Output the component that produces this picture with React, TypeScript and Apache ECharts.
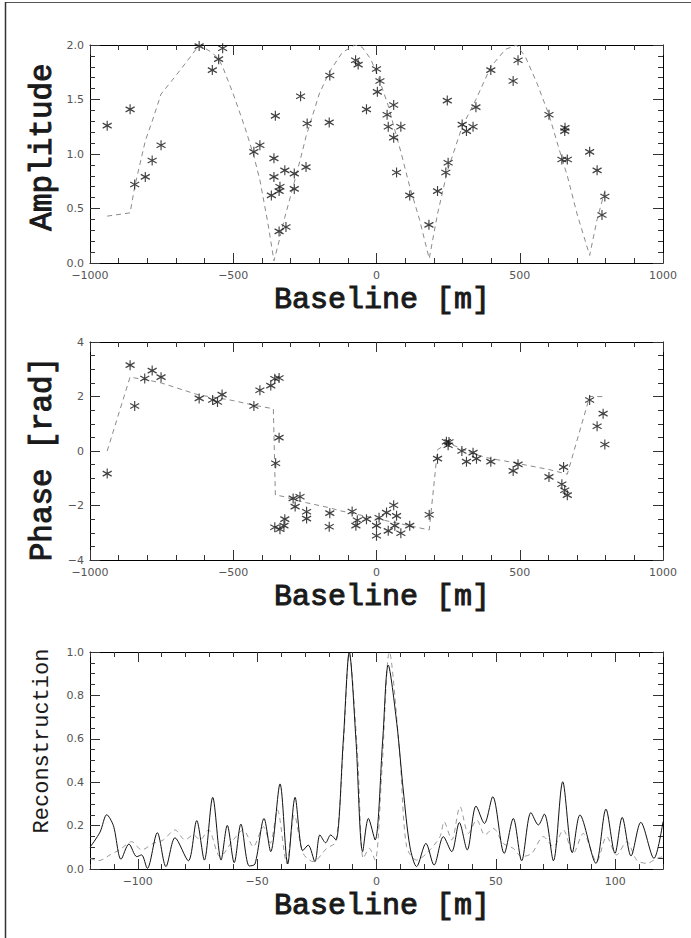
import React, { useEffect, useRef } from 'react';
import * as echarts from 'echarts';

// ---------- Panel 1: amplitude ----------
const ampX = [-940, -860, -844, -807, -783, -752, -619, -573, -551, -537, -428, -407, -353, -358, -358, -367, -337, -340, -320, -287, -287, -340, -316, -265, -246, -242, -163, -165,
  -73, -64, 0, 12, 3, -35, 60, 37, 41, 85, 60, 70, 116, 183, 213, 247, 242, 250, 299, 314, 337, 347, 399, 477, 494, 602, 658, 657, 647, 666, 744, 770, 797, 787];
const ampY = [1.26, 1.41, 0.72, 0.79, 0.94, 1.08, 1.99, 1.77, 1.87, 1.97, 1.02, 1.08, 1.35, 0.96, 0.79, 0.62, 0.70, 0.66, 0.85, 0.82, 0.68, 0.29, 0.33, 1.53, 0.88, 1.28, 1.72, 1.29,
  1.86, 1.82, 1.78, 1.67, 1.57, 1.41, 1.45, 1.36, 1.25, 1.25, 1.15, 0.83, 0.62, 0.35, 0.66, 1.49, 0.83, 0.92, 1.27, 1.21, 1.25, 1.43, 1.77, 1.67, 1.86, 1.36, 1.24, 1.21, 0.95, 0.95, 1.02, 0.85, 0.61, 0.44];
const ampModelX = [-940, -860, -844, -807, -783, -752, -700, -650, -619, -573, -551, -537, -500, -460, -428, -407, -380, -358, -340, -320, -287, -265, -246, -200, -165, -120, -76, -50, -20, 10, 40, 85, 116, 150, 184, 213, 247, 299, 347, 399, 450, 489, 520, 560, 602, 647, 666, 700, 744, 770, 799];
const ampModelY = [0.43, 0.46, 0.70, 1.12, 1.30, 1.55, 1.72, 1.89, 2.0, 1.93, 1.87, 1.80, 1.55, 1.25, 0.98, 0.76, 0.38, 0.02, 0.20, 0.42, 0.74, 0.96, 1.16, 1.55, 1.75, 1.93, 2.0, 1.98, 1.87, 1.68, 1.45, 1.02, 0.70, 0.40, 0.04, 0.45, 0.84, 1.25, 1.50, 1.80, 1.96, 2.0, 1.89, 1.65, 1.36, 0.96, 0.80, 0.45, 0.07, 0.40, 0.68];

// ---------- Panel 2: phase ----------
const phaseX = [-940, -860, -844, -809, -783, -752, -619, -572, -555, -539, -428, -407, -369, -355, -340, -340, -352, -355, -337, -323, -320, -291, -267, -284, -244, -244, -163, -165,
  -85, -72, -67, -35, 0, 0, 9, 35, 41, 60, 70, 64, 85, 116, 184, 213, 244, 250, 253, 298, 314, 337, 349, 399, 477, 494, 602, 653, 647, 657, 666, 744, 791, 770, 797];
const phaseY = [-0.83, 3.15, 1.65, 2.66, 2.95, 2.71, 1.93, 1.87, 1.80, 2.07, 1.65, 2.23, 2.40, 2.65, 2.68, 0.49, -0.45, -2.80, -2.87, -2.74, -2.50, -1.74, -1.68, -2.04, -2.23, -2.48, -2.28, -2.78,
  -2.22, -2.74, -2.54, -2.50, -2.74, -3.11, -2.45, -2.26, -2.93, -1.99, -2.38, -2.74, -3.02, -2.74, -2.34, -0.28, 0.34, 0.21, 0.33, 0.00, -0.39, -0.06, -0.28, -0.39, -0.73, -0.49, -0.95, -0.59, -1.22, -1.44, -1.62, 1.87, 1.37, 0.91, 0.24];
const phaseModelX = [-940, -860, -844, -809, -783, -752, -619, -572, -539, -500, -428, -407, -360, -353, -340, -320, -291, -267, -244, -165, -128, -70, 0, 60, 116, 184, 213, 244, 253, 337, 399, 477, 494, 602, 647, 666, 744, 770, 799];
const phaseModelY = [0.0, 2.72, 2.68, 2.62, 2.57, 2.50, 2.05, 1.98, 1.92, 1.85, 1.68, 1.64, 1.55, -1.62, -1.64, -1.68, -1.78, -1.84, -1.90, -2.08, -2.19, -2.32, -2.48, -2.62, -2.74, -2.90, 0.05, 0.25, 0.28, -0.10, -0.28, -0.42, -0.46, -0.68, -0.80, -0.85, 2.00, 2.00, 1.99];

// ---------- Panel 3: reconstruction ----------
const reconSolidX = [-120, -115.8, -113.0, -110.2, -107.0, -103.7, -100.4, -98.4, -96.0, -91.8, -88.2, -84.4, -78.8, -75.3, -72.1, -68.6, -65.1, -62.5, -59.6, -56.8, -53.3, -50.9, -47.1, -44.3, -40.4, -37.2, -34.1, -30.9, -28.6, -25.8, -23.7, -21.3, -19.2, -17.0, -13.9, -11.4, -8.6, -5.8, -3.4, -0.6, 2.6, 4.9, 8.5, 11.2, 14.0, 16.8, 20.7, 24.1, 28.0, 31.5, 34.7, 38.0, 41.7, 45.2, 48.7, 53.5, 57.3, 60.8, 64.7, 67.8, 70.3, 74.1, 78.0, 82.0, 85.2, 91.9, 96.1, 99.9, 102.9, 106.6, 110.7, 116.2, 120];
const reconSolidY = [0.10, 0.17, 0.25, 0.20, 0.045, 0.115, 0.057, 0.065, 0.003, 0.167, 0.011, 0.144, 0.038, 0.223, 0.041, 0.33, 0.041, 0.201, 0.029, 0.207, 0.014, 0.023, 0.233, 0.08, 0.392, 0.023, 0.33, 0.084, 0.11, 0.034, 0.157, 0.121, 0.157, 0.134, 0.594, 1.0, 0.594, 0.08, 0.233, 0.134, 0.594, 0.94, 0.671, 0.364, 0.103, 0.011, 0.118, 0.018, 0.149, 0.08, 0.214, 0.088, 0.29, 0.21, 0.333, 0.072, 0.233, 0.038, 0.26, 0.203, 0.253, 0.038, 0.402, 0.075, 0.249, 0.026, 0.276, 0.072, 0.238, 0.06, 0.215, 0.049, 0.218];
const reconDashedX = [-120, -116.5, -111.6, -107.4, -102.5, -98.4, -93.5, -89.3, -84.4, -80.2, -76.7, -73.9, -70.4, -65.5, -60.0, -55.8, -51.6, -47.4, -44.5, -41.5, -37.6, -34.4, -30.7, -26.5, -20.9, -17.0, -13.9, -11.4, -7.9, -5.5, -3.0, -0.6, 2.2, 5.4, 9.8, 12.6, 16.8, 21.0, 26.6, 28.3, 31.5, 35.0, 38.5, 42.0, 45.4, 48.9, 53.1, 57.3, 60.8, 65.0, 69.9, 74.1, 78.2, 82.4, 86.6, 92.2, 96.4, 100.6, 104.8, 109.0, 113.2, 117.4, 120];
const reconDashedY = [0.049, 0.038, 0.065, 0.09, 0.126, 0.088, 0.118, 0.134, 0.18, 0.134, 0.157, 0.134, 0.18, 0.057, 0.134, 0.18, 0.103, 0.195, 0.12, 0.272, 0.026, 0.249, 0.072, 0.034, 0.095, 0.126, 0.564, 0.994, 0.518, 0.049, 0.095, 0.041, 0.441, 1.0, 0.518, 0.103, 0.041, 0.072, 0.149, 0.218, 0.134, 0.287, 0.164, 0.226, 0.157, 0.187, 0.118, 0.095, 0.057, 0.072, 0.149, 0.103, 0.18, 0.072, 0.164, 0.034, 0.149, 0.065, 0.126, 0.041, 0.026, 0.049, 0.057];

// ---------- Tick labels / titles ----------
const reconXLabels = [-100, -50, 0, 50, 100];
const xTitle = 'Baseline [m]';
const yTitles = ['Amplitude', 'Phase [rad]', 'Reconstruction'];

const zip = (xs: number[], ys: number[]) => xs.map((x, i) => [x, ys[i]]);
const fmt = (v: number, d: number) => v.toFixed(d).replace('-', '\u2212');

const AX = '#000';
const TICK = '#333';
const LBL = { color: '#555', fontSize: 11, fontFamily: 'DejaVu Sans' };
const STAR = 'path://M5 0L5 10M0.7 2.5L9.3 7.5M0.7 7.5L9.3 2.5';

function xAxisCfg(gridIndex: number, pos: string, min: number, max: number, extra: any, labels: boolean, digits: number) {
  return {
    type: 'value', gridIndex, position: pos, min, max,
    axisLine: { show: true, onZero: false, lineStyle: { color: AX, width: 1 } },
    axisTick: { show: true, inside: true, length: 10, lineStyle: { color: TICK, width: 1 } },
    axisLabel: { show: labels, margin: 7, ...LBL, showMinLabel: true, showMaxLabel: true, hideOverlap: false, formatter: (v: number) => fmt(v, digits) },
    splitLine: { show: false }, minorSplitLine: { show: false },
    ...extra,
  };
}
function yAxisCfg(gridIndex: number, pos: string, min: number, max: number, interval: number, minorSplit: number, labels: boolean, digits: number) {
  return {
    type: 'value', gridIndex, position: pos, min, max, interval,
    axisLine: { show: true, onZero: false, lineStyle: { color: AX, width: 1 } },
    axisTick: { show: true, inside: true, length: 10, lineStyle: { color: TICK, width: 1 } },
    minorTick: { show: true, splitNumber: minorSplit, length: 5, lineStyle: { color: TICK, width: 1 } },
    axisLabel: { show: labels, margin: 6, ...LBL, showMinLabel: true, showMaxLabel: true, hideOverlap: false, formatter: (v: number) => fmt(v, digits) },
    splitLine: { show: false }, minorSplitLine: { show: false },
  };
}

function buildOption() {
  const minor = (split: number) => ({ interval: 500, minorTick: { show: true, splitNumber: split, length: 5, lineStyle: { color: TICK, width: 1 } } });
  const custom = { axisTick: { show: true, inside: true, length: 10, customValues: reconXLabels, lineStyle: { color: TICK, width: 1 } } };
  const xAxes: any[] = [
    xAxisCfg(0, 'bottom', -1000, 1000, minor(5), true, 0),
    xAxisCfg(0, 'top', -1000, 1000, minor(5), false, 0),
    xAxisCfg(1, 'bottom', -1000, 1000, minor(5), true, 0),
    xAxisCfg(1, 'top', -1000, 1000, minor(5), false, 0),
    (() => { const a: any = xAxisCfg(2, 'bottom', -120, 120, custom, true, 0); a.axisLabel.customValues = reconXLabels; return a; })(),
    xAxisCfg(2, 'bottom', -120, 120, { interval: 10, axisTick: { show: true, inside: true, length: 5, lineStyle: { color: TICK, width: 1 } }, axisLine: { show: false, onZero: false } }, false, 0),
    xAxisCfg(2, 'top', -120, 120, custom, false, 0),
    xAxisCfg(2, 'top', -120, 120, { interval: 10, axisTick: { show: true, inside: true, length: 5, lineStyle: { color: TICK, width: 1 } }, axisLine: { show: false, onZero: false } }, false, 0),
  ];
  const yAxes: any[] = [
    yAxisCfg(0, 'left', 0, 2, 0.5, 5, true, 1),
    yAxisCfg(0, 'right', 0, 2, 0.5, 5, false, 1),
    yAxisCfg(1, 'left', -4, 4, 2, 4, true, 0),
    yAxisCfg(1, 'right', -4, 4, 2, 4, false, 0),
    yAxisCfg(2, 'left', 0, 1, 0.2, 4, true, 1),
    yAxisCfg(2, 'right', 0, 1, 0.2, 4, false, 1),
  ];
  const dashed = { color: '#8a8a8a', width: 1, type: [5, 4] };
  const scatterStyle = { color: 'rgba(0,0,0,0)', borderColor: '#111', borderWidth: 1.2 };
  const titleFont = (size: number, heavy: boolean) => ({
    fontFamily: 'Liberation Mono', fontSize: size, fontWeight: 'normal', fill: '#1a1a1a',
    stroke: heavy ? '#1a1a1a' : undefined, lineWidth: heavy ? 1 : 0,
  });
  const tx = (x: number, y: number, text: string, size: number, heavy: boolean, rot = 0) => ({
    type: 'text', x, y, rotation: rot,
    style: { text, ...titleFont(size, heavy), textAlign: 'center', textVerticalAlign: 'middle' },
  });
  return {
    animation: false,
    backgroundColor: '#fff',
    grid: [
      { left: 90, top: 45, width: 573, height: 218, containLabel: false, outerBoundsMode: 'none' },
      { left: 90, top: 342, width: 573, height: 218, containLabel: false, outerBoundsMode: 'none' },
      { left: 90, top: 652, width: 573, height: 217, containLabel: false, outerBoundsMode: 'none' },
    ],
    xAxis: xAxes,
    yAxis: yAxes,
    series: [
      { type: 'line', xAxisIndex: 0, yAxisIndex: 0, data: zip(ampModelX, ampModelY), showSymbol: false, lineStyle: dashed, z: 1 },
      { type: 'scatter', xAxisIndex: 0, yAxisIndex: 0, data: zip(ampX, ampY), symbol: STAR, symbolSize: [9, 10], itemStyle: scatterStyle, z: 2 },
      { type: 'line', xAxisIndex: 2, yAxisIndex: 2, data: zip(phaseModelX, phaseModelY), showSymbol: false, lineStyle: dashed, z: 1 },
      { type: 'scatter', xAxisIndex: 2, yAxisIndex: 2, data: zip(phaseX, phaseY), symbol: STAR, symbolSize: [9, 10], itemStyle: scatterStyle, z: 2 },
      { type: 'line', xAxisIndex: 4, yAxisIndex: 4, data: zip(reconDashedX, reconDashedY), showSymbol: false, smooth: 0.3, lineStyle: { color: '#999', width: 1, type: [5, 4] }, z: 1 },
      { type: 'line', xAxisIndex: 4, yAxisIndex: 4, data: zip(reconSolidX, reconSolidY), showSymbol: false, smooth: 0.3, lineStyle: { color: '#111', width: 1 }, z: 2 },
    ],
    graphic: [
      { type: 'line', shape: { x1: 5, y1: 2.5, x2: 691, y2: 2.5 }, style: { stroke: '#555', lineWidth: 1 } },
      { type: 'line', shape: { x1: 5.5, y1: 2, x2: 5.5, y2: 938 }, style: { stroke: '#333', lineWidth: 1.5 } },
      tx(382, 300, xTitle, 30, true),
      tx(382, 597, xTitle, 30, true),
      tx(382, 906, xTitle, 30, true),
      tx(42, 147, yTitles[0], 31, true, Math.PI / 2),
      tx(42, 459, yTitles[1], 31, true, Math.PI / 2),
      tx(42, 741, yTitles[2], 22, false, Math.PI / 2),
    ],
  };
}

export default function App() {
  const ref = useRef<HTMLDivElement>(null);
  useEffect(() => {
    if (!ref.current) return;
    const chart = echarts.init(ref.current, undefined, { renderer: 'svg' });
    chart.setOption(buildOption() as any);
    return () => chart.dispose();
  }, []);
  return (
    <div style={{ position: 'fixed', left: 0, top: 0, width: 691, height: 938, background: '#fff' }}>
      <div ref={ref} style={{ width: 691, height: 938 }} />
    </div>
  );
}
